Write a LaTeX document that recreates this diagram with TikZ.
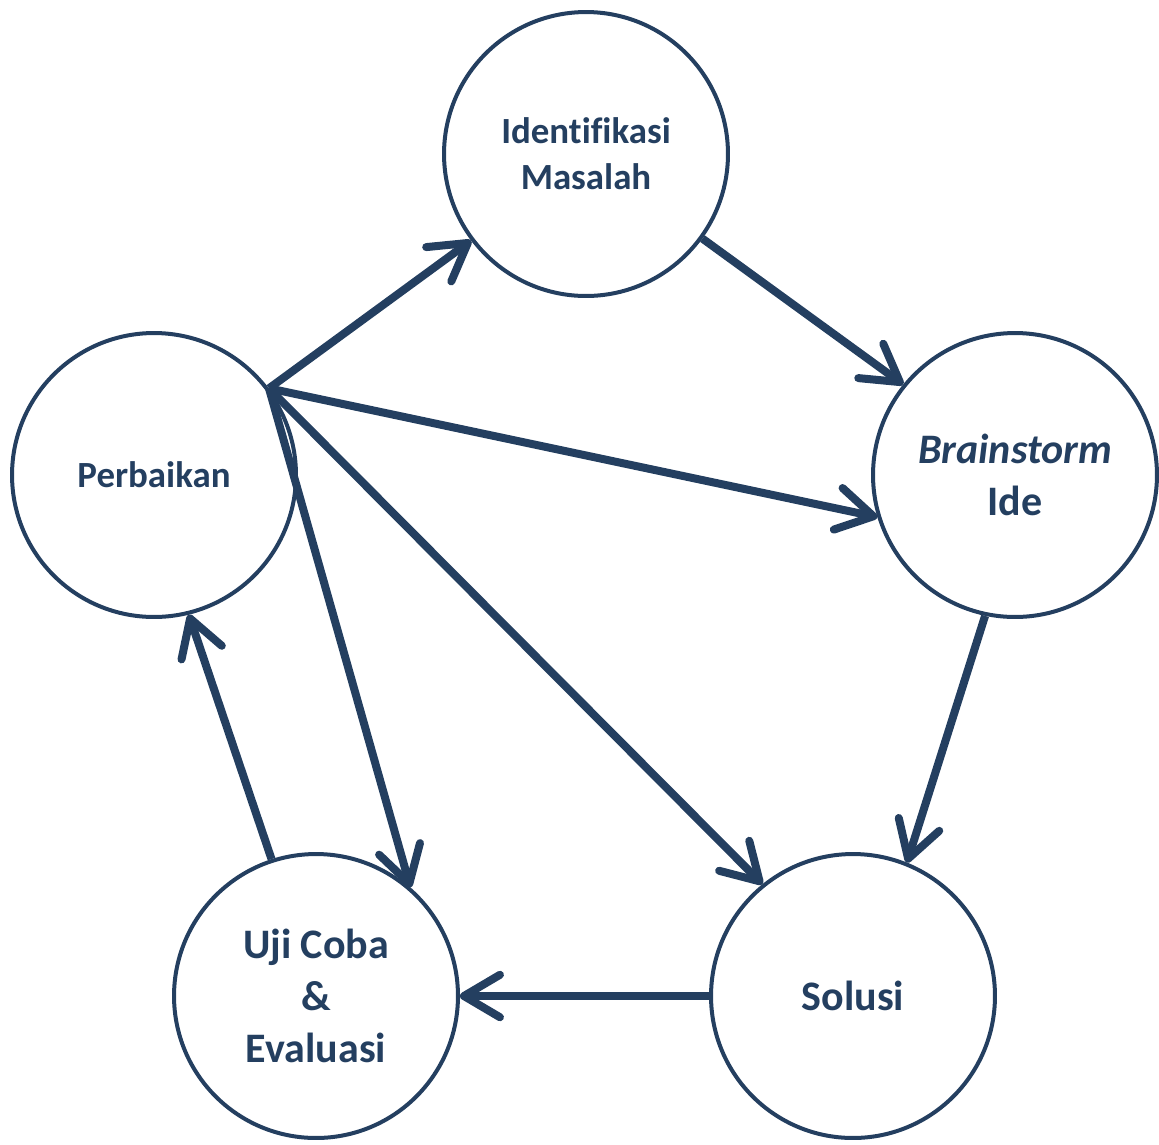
\documentclass[tikz,border=0pt]{standalone}
\usepackage{fontspec}
\setmainfont[Ligatures=NoCommon]{Carlito}
\usetikzlibrary{arrows.meta}
\definecolor{navy}{RGB}{36,63,96}
\tikzstyle{stage}=[circle,draw=navy,line width=0.08cm,minimum size=5.68cm,inner sep=0pt,text=navy,align=center]
\tikzstyle{small}=[font=\fontsize{21}{26.2}\selectfont\bfseries]
\tikzstyle{big}=[font=\fontsize{23.9}{29.6}\selectfont\bfseries]
\tikzstyle{flow}=[draw=navy,line width=0.16cm,-{Straight Barb[length=0.72cm,width=0.85cm,round]}]

\begin{document}
\begin{tikzpicture}[x=0.02cm,y=-0.02cm]
  \useasboundingbox (0,0) rectangle (1159,1144);
  % The two stages with smaller text
  \foreach \pos/\name/\label in {{(586,154)/ident/{Identifikasi\\Masalah}}, {(154,475)/perb/{Perbaikan}}}
    \node[stage,small] (\name) at \pos {\label};
  % The other stages
  \foreach \pos/\name/\label in {{(1015,475)/brain/{\textit{Brainstorm}\\Ide}}, {(853,996)/solusi/{Solusi}}, {(316,996)/uji/{Uji Coba\\\&\\Evaluasi}}}
    \node[stage,big] (\name) at \pos {\label};

  % Connect the stages
  \foreach \source/\dest in {perb.37/ident.217, ident.-36/brain.141, perb.37/brain.197, perb.37/solusi.129, perb.37/uji.49, uji.108/perb.-76, brain.-102/solusi.68, solusi.180/uji.0}
    \path[flow] (\source) -- (\dest);
\end{tikzpicture}
\end{document}
